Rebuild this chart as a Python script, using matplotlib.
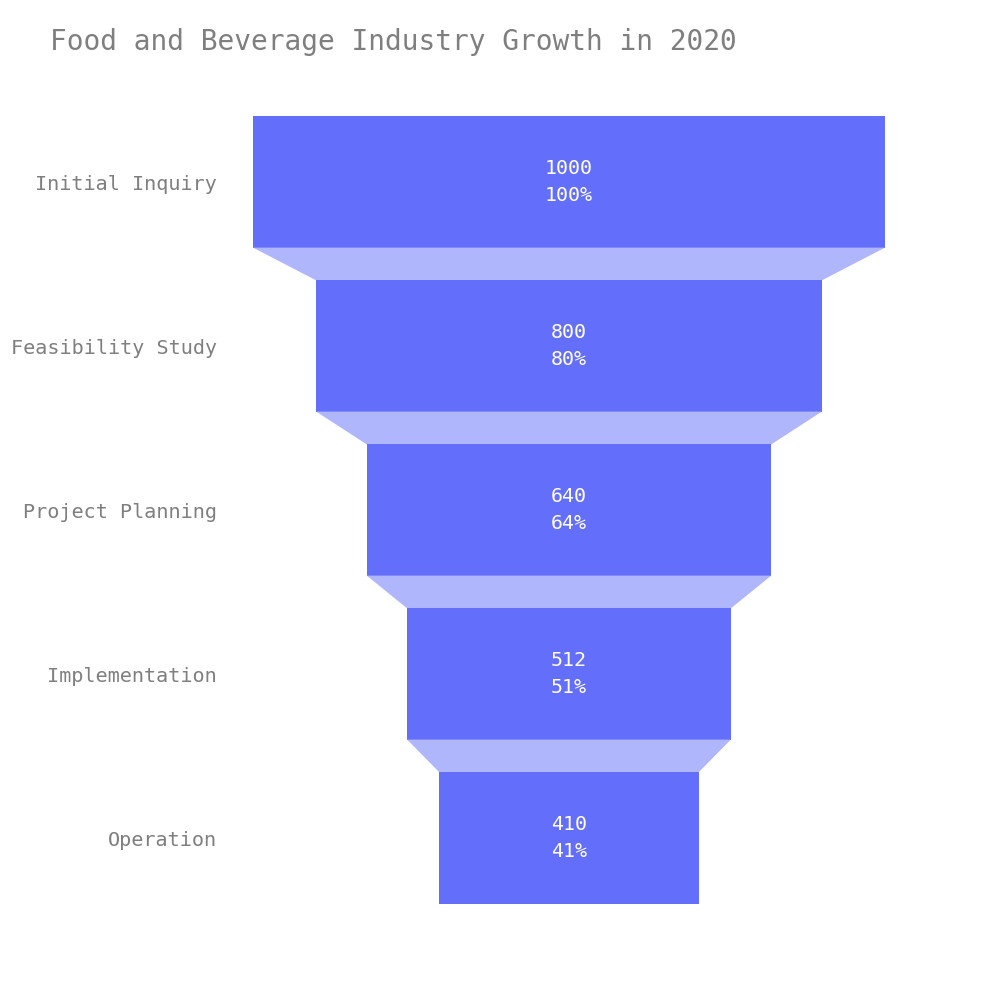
import matplotlib
matplotlib.use("Agg")
import matplotlib.pyplot as plt
from matplotlib.patches import Polygon

stages = ["Initial Inquiry", "Feasibility Study", "Project Planning", "Implementation", "Operation"]
values = [1000, 800, 640, 512, 410]
percents = ["100%", "80%", "64%", "51%", "41%"]

bar_color = "#636EFA"
conn_color = "#B0B6FC"
text_gray = "#7F7F7F"
font = "DejaVu Sans Mono"

fig = plt.figure(figsize=(10, 10), dpi=100)
ax = fig.add_axes([0.253, 0.08, 0.632, 0.82])

half = 0.4
for i, v in enumerate(values):
    ax.barh(i, v, left=-v / 2, height=2 * half, color=bar_color, linewidth=0)
    ax.text(0, i, f"{v}\n{percents[i]}", ha="center", va="center", color="white",
            fontsize=14.4, family=font, linespacing=1.5)
    if i + 1 < len(values):
        nv = values[i + 1]
        poly = Polygon([(-v / 2, i + half), (v / 2, i + half),
                        (nv / 2, i + 1 - half), (-nv / 2, i + 1 - half)],
                       closed=True, facecolor=conn_color, edgecolor="none")
        ax.add_patch(poly)

ax.set_xlim(-500, 500)
ax.set_ylim(len(values) - 0.5, -0.5)
ax.set_yticks(range(len(values)))
ax.set_yticklabels(stages, family=font, fontsize=14.5, color=text_gray)
ax.tick_params(axis="y", length=0, pad=26)
ax.set_xticks([])
for s in ax.spines.values():
    s.set_visible(False)

fig.text(0.05, 0.958, "Food and Beverage Industry Growth in 2020", family=font,
         fontsize=20.1, color=text_gray, ha="left", va="center")

fig.savefig("out.png", dpi=100)
